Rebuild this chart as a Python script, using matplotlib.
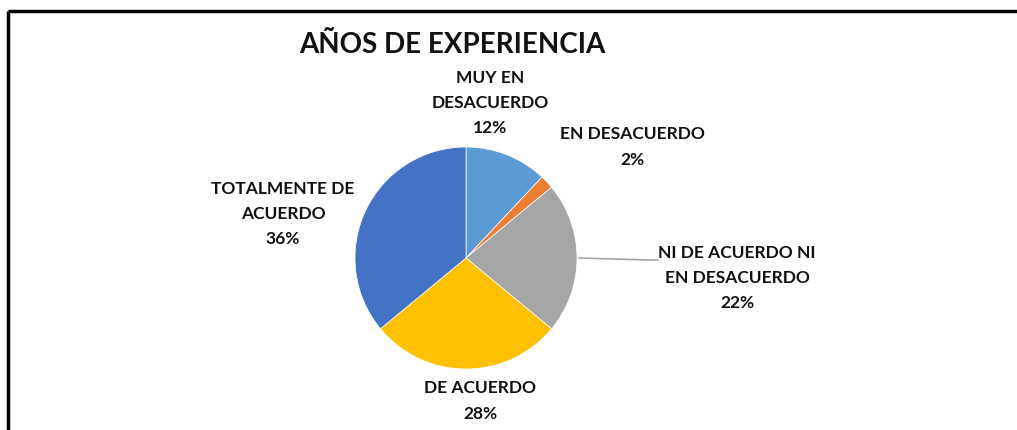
import numpy as np
import matplotlib.pyplot as plt

categories = ['MUY EN\nDESACUERDO', 'EN DESACUERDO', 'NI DE ACUERDO NI\nEN DESACUERDO',
              'DE ACUERDO', 'TOTALMENTE DE\nACUERDO']
values = [12, 2, 22, 28, 36]
colors = ['#5B9BD5', '#ED7D31', '#A5A5A5', '#FFC000', '#4472C4']

# label centres in pixels (x, y from top)
label_pos = [(490, 103), (632, 147), (737, 278), (480, 401), (283, 214)]

W, H = 1017, 430
fig = plt.figure(figsize=(W / 100, H / 100), dpi=100)
ax = fig.add_axes([0, 0, 1, 1])

cx, cy, r = 466, H - 258, 111
wedges, _ = ax.pie(values, colors=colors, startangle=90, counterclock=False,
                   center=(cx, cy), radius=r, frame=True,
                   wedgeprops=dict(linewidth=0.5, edgecolor='white'))
ax.set_xlim(0, W)
ax.set_ylim(0, H)
ax.set_aspect('auto')
ax.axis('off')

font = ['Lato', 'DejaVu Sans']
for lab, v, (x, y) in zip(categories, values, label_pos):
    ax.text(x, H - y, f'{lab}\n{v}%', ha='center', va='center', fontsize=12.5,
            fontweight='bold', family=font, linespacing=1.72, color='#111111')

# leader line for the grey slice
ang = np.deg2rad(90 - 360 * (values[0] + values[1] + values[2] / 2) / 100)
x0, y0 = cx + r * np.cos(ang), cy + r * np.sin(ang)
ax.plot([x0 + 2, 650, 658], [y0, H - 260, H - 260], color='#A6A6A6', lw=1.2)

ax.text(452, H - 45, 'AÑOS DE EXPERIENCIA', ha='center', va='center', fontsize=20,
        fontweight='bold', family=font, color='#111111')

# chart border (top and left visible)
ax.plot([8, W], [H - 11, H - 11], color='black', lw=2.5, solid_capstyle='butt')
ax.plot([8, 8], [H - 11, 0], color='black', lw=2.5, solid_capstyle='butt')

fig.savefig('out.png', dpi=100, facecolor='white')
